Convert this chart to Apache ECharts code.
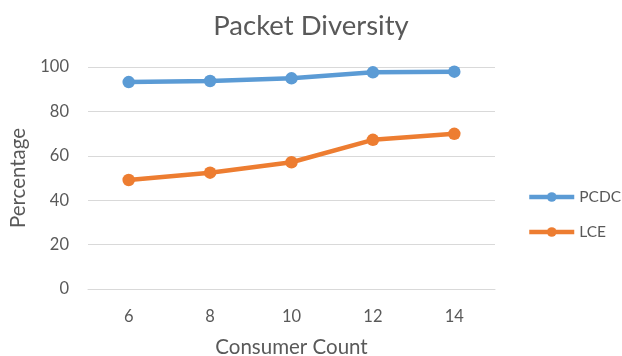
<!DOCTYPE html>
<html>
<head>
<meta charset="utf-8">
<script src="https://cdn.jsdelivr.net/npm/echarts@6/dist/echarts.min.js"></script>
<style>
  html, body { margin: 0; padding: 0; background: #fff; }
  #chart { width: 622px; height: 356px; }
</style>
</head>
<body>
<div id="chart"></div>
<script>
// categories and values
var consumerCounts = ['6', '8', '10', '12', '14'];
var pcdcValues = [93.2, 93.7, 94.9, 97.6, 97.9];
var lceValues = [49.1, 52.4, 57.1, 67.2, 69.9];

var font = 'Lato, "Open Sans", sans-serif';
var textColor = '#595959';

var myChart = echarts.init(document.getElementById('chart'));

myChart.setOption({
    animation: false,
    title: {
        text: 'Packet Diversity',
        left: 'center',
        top: 7,
        textStyle: { fontFamily: font, fontSize: 27.5, fontWeight: 'normal', color: textColor }
    },
    legend: {
        orient: 'vertical',
        left: 527,
        top: 189,
        padding: 0,
        itemWidth: 45,
        itemHeight: 12,
        itemGap: 19,
        itemStyle: { borderWidth: 0 },
        lineStyle: { width: 4.5 },
        textStyle: { fontFamily: font, fontSize: 15.5, color: textColor },
        data: ['PCDC', 'LCE']
    },
    grid: { left: 88, right: 127, top: 67, bottom: 67, outerBoundsMode: 'none' },
    xAxis: {
        type: 'category',
        data: consumerCounts,
        name: 'Consumer Count',
        nameLocation: 'middle',
        nameGap: 48,
        nameTextStyle: { fontFamily: font, fontSize: 20.5, color: textColor },
        axisLine: { lineStyle: { color: '#D9D9D9', width: 1 } },
        axisTick: { show: false },
        axisLabel: { fontFamily: font, fontSize: 16.5, color: textColor, margin: 19 }
    },
    yAxis: {
        type: 'value',
        min: 0,
        max: 100,
        interval: 20,
        name: 'Percentage',
        nameLocation: 'middle',
        nameGap: 59,
        nameTextStyle: { fontFamily: font, fontSize: 20.5, color: textColor },
        axisLine: { show: false },
        axisTick: { show: false },
        axisLabel: { fontFamily: font, fontSize: 16.5, color: textColor, margin: 19 },
        splitLine: { lineStyle: { color: '#D9D9D9', width: 1 } }
    },
    series: [{
        name: 'PCDC',
        type: 'line',
        data: pcdcValues,
        symbol: 'circle',
        symbolSize: 12.5,
        itemStyle: { color: '#5B9BD5' },
        lineStyle: { width: 4.5, color: '#5B9BD5' }
    }, {
        name: 'LCE',
        type: 'line',
        data: lceValues,
        symbol: 'circle',
        symbolSize: 12.5,
        itemStyle: { color: '#ED7D31' },
        lineStyle: { width: 4.5, color: '#ED7D31' }
    }]
});
</script>
</body>
</html>
